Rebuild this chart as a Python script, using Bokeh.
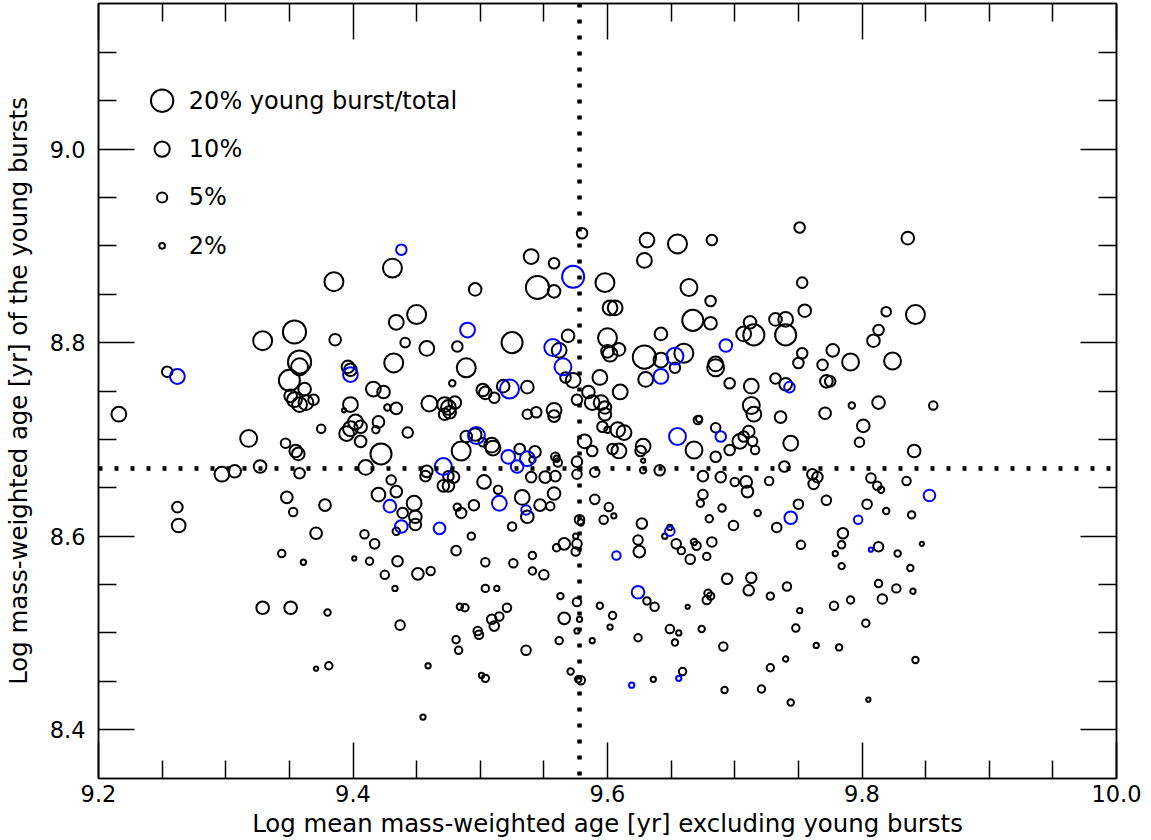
import math
from bokeh.plotting import figure
from bokeh.models import Range1d, LinearAxis, FixedTicker, Span, PrintfTickFormatter
from bokeh.embed import file_html
from bokeh.resources import INLINE
from bokeh.core.properties import value

# ---------------- data ----------------
# black: galaxies (x = log mean mass-weighted age excl. young bursts, y = log age of young bursts, pct = burst fraction %)
black_x = [
 9.216, 9.254, 9.262, 9.263, 9.297, 9.307, 9.318, 9.329, 9.327, 9.329, 9.351, 9.344, 9.347, 9.355, 9.357, 9.358,
 9.348, 9.353, 9.361, 9.378, 9.371, 9.371, 9.381, 9.380, 9.401, 9.375, 9.385, 9.354, 9.386, 9.358, 9.358, 9.350,
 9.362, 9.351, 9.354, 9.358, 9.363, 9.369, 9.396, 9.398, 9.398, 9.393, 9.395, 9.398, 9.402, 9.406, 9.406, 9.420,
 9.418, 9.443, 9.422, 9.410,
 9.580, 9.431, 9.540, 9.558, 9.545, 9.558, 9.598, 9.496, 9.450, 9.434, 9.441, 9.458, 9.482, 9.525, 9.562, 9.569,
 9.567, 9.573, 9.432, 9.489, 9.478, 9.502, 9.518, 9.537, 9.594, 9.602, 9.606, 9.600, 9.600, 9.602, 9.585, 9.416,
 9.424,
 9.751, 9.631, 9.655, 9.682, 9.629, 9.753, 9.664, 9.681, 9.755, 9.667, 9.681, 9.712, 9.707, 9.715, 9.732, 9.740,
 9.740, 9.642, 9.609, 9.629, 9.642, 9.660, 9.653, 9.630, 9.685, 9.685, 9.753, 9.750, 9.769, 9.777, 9.791, 9.732,
 9.740, 9.696, 9.713, 9.772, 9.775, 9.610,
 9.836, 9.819, 9.842, 9.813, 9.809, 9.824,
 9.813, 9.856, 9.801, 9.798, 9.841, 9.807, 9.835, 9.812, 9.815, 9.804, 9.819, 9.839, 9.813, 9.828, 9.847, 9.838,
 9.813, 9.827, 9.840, 9.816, 9.803, 9.842, 9.805,
 9.595, 9.598, 9.598, 9.596, 9.600, 9.608, 9.613, 9.604, 9.609, 9.628, 9.626, 9.628, 9.628, 9.641, 9.668, 9.671,
 9.672, 9.685, 9.685, 9.696, 9.704, 9.707, 9.711, 9.714, 9.716, 9.713, 9.715, 9.736, 9.744, 9.739, 9.771, 9.792,
 9.761, 9.765, 9.762, 9.675, 9.689, 9.700, 9.709, 9.710, 9.727, 9.675, 9.673, 9.690, 9.680, 9.699, 9.718, 9.733,
 9.750, 9.772, 9.601, 9.597, 9.605, 9.627, 9.649, 9.645, 9.624, 9.625, 9.654, 9.658, 9.668, 9.670, 9.682, 9.665,
 9.678, 9.752, 9.785, 9.784, 9.779, 9.784,
 9.694, 9.713, 9.711, 9.741, 9.728, 9.751, 9.778, 9.791, 9.631, 9.637, 9.663, 9.679, 9.681, 9.678, 9.594, 9.604,
 9.602, 9.624, 9.649, 9.656, 9.653, 9.674, 9.691, 9.748, 9.764, 9.782, 9.740, 9.728, 9.659, 9.636, 9.692, 9.721,
 9.744,
 9.425, 9.451, 9.461, 9.433, 9.504, 9.513, 9.541, 9.550, 9.563, 9.576, 9.566, 9.578, 9.576, 9.562, 9.588, 9.484,
 9.488, 9.521, 9.515, 9.509, 9.511, 9.498, 9.499, 9.437, 9.481, 9.483, 9.536, 9.459, 9.501, 9.504, 9.571, 9.579,
 9.577, 9.455,
 9.434, 9.427, 9.460, 9.472, 9.475, 9.480, 9.472, 9.476, 9.504, 9.511, 9.537, 9.544, 9.558, 9.558, 9.576, 9.588,
 9.489, 9.496, 9.485, 9.502, 9.509, 9.510, 9.531, 9.543, 9.541, 9.559, 9.560, 9.561, 9.576, 9.582, 9.588, 9.590,
 9.576, 9.458, 9.457, 9.475, 9.479, 9.475, 9.471, 9.430, 9.434, 9.420, 9.448, 9.439, 9.449, 9.449, 9.434, 9.503,
 9.514, 9.495, 9.482, 9.485, 9.533, 9.540, 9.551, 9.559, 9.558, 9.547, 9.555, 9.537, 9.525, 9.493, 9.409, 9.417,
 9.413, 9.435, 9.481, 9.504, 9.526, 9.541, 9.566, 9.560, 9.578, 9.579, 9.575, 9.576, 9.575, 9.590,
]
black_y = [
 8.726, 8.770, 8.630, 8.611, 8.664, 8.667, 8.701, 8.802, 8.672, 8.526, 8.526, 8.582, 8.696, 8.688, 8.685, 8.665,
 8.640, 8.625, 8.573, 8.632, 8.603, 8.463, 8.466, 8.521, 8.577, 8.711, 8.863, 8.811, 8.803, 8.780, 8.775, 8.761,
 8.752, 8.745, 8.741, 8.736, 8.738, 8.741, 8.775, 8.772, 8.736, 8.730, 8.706, 8.711, 8.718, 8.713, 8.698, 8.718,
 8.710, 8.707, 8.685, 8.671,
 8.913, 8.877, 8.889, 8.882, 8.857, 8.853, 8.862, 8.855, 8.829, 8.821, 8.800, 8.794, 8.796, 8.800, 8.792, 8.807,
 8.764, 8.761, 8.779, 8.774, 8.758, 8.751, 8.755, 8.754, 8.764, 8.836, 8.836, 8.805, 8.791, 8.788, 8.749, 8.752,
 8.749,
 8.919, 8.906, 8.902, 8.906, 8.885, 8.862, 8.857, 8.843, 8.833, 8.823, 8.820, 8.821, 8.809, 8.808, 8.824, 8.824,
 8.808, 8.809, 8.793, 8.785, 8.782, 8.789, 8.774, 8.762, 8.778, 8.774, 8.789, 8.779, 8.777, 8.792, 8.780, 8.763,
 8.757, 8.758, 8.755, 8.760, 8.760, 8.749,
 8.908, 8.832, 8.829, 8.813, 8.802, 8.781,
 8.738, 8.735, 8.714, 8.697, 8.688, 8.660, 8.657, 8.652, 8.648, 8.633, 8.626, 8.622, 8.589, 8.582, 8.592, 8.567,
 8.551, 8.546, 8.543, 8.535, 8.510, 8.472, 8.431,
 8.738, 8.733, 8.726, 8.713, 8.710, 8.710, 8.707, 8.690, 8.688, 8.693, 8.688, 8.678, 8.668, 8.668, 8.689, 8.720,
 8.721, 8.712, 8.682, 8.689, 8.698, 8.703, 8.708, 8.698, 8.689, 8.735, 8.726, 8.723, 8.696, 8.672, 8.727, 8.735,
 8.664, 8.661, 8.654, 8.662, 8.661, 8.656, 8.656, 8.646, 8.657, 8.643, 8.634, 8.629, 8.618, 8.611, 8.624, 8.609,
 8.633, 8.637, 8.630, 8.617, 8.621, 8.613, 8.609, 8.600, 8.596, 8.584, 8.592, 8.585, 8.594, 8.590, 8.594, 8.576,
 8.579, 8.591, 8.603, 8.591, 8.582, 8.569,
 8.556, 8.557, 8.544, 8.548, 8.538, 8.523, 8.528, 8.534, 8.533, 8.527, 8.527, 8.541, 8.538, 8.534, 8.528, 8.518,
 8.506, 8.495, 8.504, 8.500, 8.490, 8.504, 8.486, 8.505, 8.487, 8.485, 8.473, 8.464, 8.460, 8.452, 8.441, 8.442,
 8.428,
 8.560, 8.561, 8.564, 8.546, 8.546, 8.546, 8.564, 8.560, 8.538, 8.532, 8.515, 8.514, 8.502, 8.492, 8.492, 8.527,
 8.526, 8.526, 8.517, 8.514, 8.507, 8.502, 8.498, 8.508, 8.493, 8.482, 8.482, 8.466, 8.456, 8.453, 8.460, 8.451,
 8.452, 8.413,
 8.732, 8.733, 8.737, 8.736, 8.733, 8.738, 8.726, 8.728, 8.748, 8.743, 8.726, 8.728, 8.730, 8.724, 8.741, 8.738,
 8.703, 8.705, 8.688, 8.697, 8.694, 8.691, 8.690, 8.687, 8.679, 8.682, 8.680, 8.676, 8.677, 8.698, 8.688, 8.666,
 8.664, 8.667, 8.662, 8.662, 8.661, 8.652, 8.652, 8.658, 8.646, 8.643, 8.634, 8.624, 8.620, 8.612, 8.605, 8.656,
 8.648, 8.632, 8.630, 8.624, 8.640, 8.661, 8.661, 8.662, 8.644, 8.632, 8.631, 8.620, 8.610, 8.600, 8.602, 8.592,
 8.574, 8.574, 8.585, 8.573, 8.572, 8.580, 8.592, 8.588, 8.617, 8.614, 8.600, 8.592, 8.584, 8.638,
]
black_pct = [
 9.5, 5.3, 5.3, 8.3, 9.5, 7.2, 12, 14.8, 7.2, 7.2, 7.2, 3, 4.5, 7.2, 7.2, 5.3,
 6.3, 3.7, 1.8, 6.3, 6.3, 1.3, 3, 2.4, 1.3, 3.7, 14.8, 21.3, 6.3, 21.3, 12, 17.9,
 7.2, 7.2, 9.5, 9.5, 9.5, 5.3, 7.2, 7.2, 9.5, 1.3, 9.5, 9.5, 9.5, 7.2, 6.3, 6.3,
 3, 5.3, 17.9, 9.5,
 5.3, 14.8, 9.5, 5.3, 21.3, 7.2, 14.8, 7.2, 14.8, 9.5, 4.5, 9.5, 5.3, 17.9, 9.5, 7.2,
 5.3, 9.5, 14.8, 14.8, 2.4, 7.2, 7.2, 7.2, 9.5, 9.5, 9.5, 14.8, 7.2, 9.5, 7.2, 9.5,
 7.2,
 5.3, 9.5, 14.8, 5.3, 9.5, 5.3, 12, 5.3, 7.2, 17.9, 7.2, 7.2, 9.5, 17.9, 7.2, 9.5,
 17.9, 7.2, 7.2, 21.3, 9.5, 14.8, 5.3, 9.5, 9.5, 12, 5.3, 5.3, 5.3, 7.2, 12, 5.3,
 7.2, 5.3, 9.5, 7.2, 5.3, 9.5,
 7.2, 4.5, 14.8, 5.3, 7.2, 12,
 7.2, 3.7, 7.2, 4.5, 7.2, 4.5, 3.7, 3.7, 2.4, 4.5, 2.4, 3, 4.5, 2.4, 1.3, 2.4,
 3, 3.7, 1.8, 4.5, 3, 2.4, 1.3,
 9.5, 7.2, 7.2, 5.3, 2.4, 9.5, 9.5, 5.3, 9.5, 9.5, 5.3, 1.3, 2.4, 5.3, 12, 3.7,
 2.4, 4.5, 5.3, 5.3, 9.5, 5.3, 6.3, 4.5, 3.7, 12, 9.5, 6.3, 9.5, 5.3, 6.3, 2.4,
 5.3, 5.3, 5.3, 5.3, 5.3, 3.7, 6.3, 6.3, 3.7, 4.5, 3, 3, 3, 4.5, 2.4, 4.5,
 4.5, 4.5, 3.7, 3.7, 1.8, 5.3, 1.8, 1.8, 4.5, 6.3, 4.5, 3, 2.4, 3.7, 4.5, 4.5,
 3, 3.7, 5.3, 3, 1.8, 2.4,
 5.3, 5.3, 5.3, 3.7, 3, 1.8, 3.7, 3, 3, 3.7, 1.3, 3, 3, 3.7, 2.4, 3,
 1.8, 3, 3.7, 1.8, 2.4, 2.4, 3.7, 3, 1.8, 2.4, 1.8, 3, 3, 1.8, 2.4, 3,
 2.4,
 3.7, 6.3, 3.7, 1.8, 3, 1.8, 3, 4.5, 2.4, 3.7, 6.3, 1.8, 1.8, 3, 1.8, 2.4,
 3, 3.7, 3.7, 4.5, 4.5, 3.7, 3.7, 4.5, 3, 3, 4.5, 1.8, 1.8, 3, 2.4, 3.7,
 2.4, 1.8,
 6.3, 2.4, 10.7, 9.5, 9.5, 7.2, 6.3, 7.2, 7.2, 5.3, 4.5, 5.3, 9.5, 6.3, 5.3, 9.5,
 6.3, 7.2, 14.8, 3.7, 9.5, 9.5, 5.3, 6.3, 2.4, 3.7, 2.4, 3.7, 5.3, 8.3, 5.3, 4.5,
 4.5, 6.3, 5.3, 5.3, 6.3, 6.3, 6.3, 4.5, 6.3, 8.3, 9.5, 5.3, 7.2, 6.3, 3, 8.3,
 3.7, 5.3, 3, 5.3, 9.5, 5.3, 6.3, 5.3, 7.2, 6.3, 3.7, 7.2, 3.7, 3, 3.7, 4.5,
 3, 5.3, 4.5, 3.7, 3.7, 3, 6.3, 3, 4.5, 2.4, 1.8, 4.5, 3.7, 4.5,
]

# blue: highlighted galaxies
blue_x = [9.262, 9.398, 9.438, 9.573, 9.490, 9.557, 9.565, 9.523, 9.653, 9.642, 9.693, 9.743, 9.655, 9.689, 9.497,
          9.522, 9.529, 9.537, 9.471, 9.429, 9.438, 9.468, 9.515, 9.536, 9.744, 9.797, 9.853, 9.807, 9.649, 9.607,
          9.624, 9.656, 9.619]
blue_y = [8.765, 8.767, 8.896, 8.868, 8.813, 8.795, 8.775, 8.752, 8.786, 8.765, 8.797, 8.754, 8.703, 8.703, 8.704,
          8.682, 8.672, 8.680, 8.672, 8.631, 8.610, 8.608, 8.634, 8.627, 8.619, 8.617, 8.642, 8.586, 8.605, 8.580,
          8.542, 8.453, 8.446]
blue_pct = [9.5, 9.5, 5.3, 19.5, 9.5, 12, 12, 14.8, 12, 9.5, 7.2, 5.3, 12, 5.3, 12,
            8.3, 7.2, 9.5, 12, 7.2, 7.2, 6.3, 9.5, 4.5, 7.2, 3.7, 6.3, 1.3, 4.5, 3.7,
            7.2, 1.8, 1.8]

# median lines
median_x = 9.578
median_y = 8.670

# legend
legend_pct = [20, 10, 5, 2]
legend_text = ["20% young burst/total", "10%", "5%", "2%"]
legend_y = [9.05, 9.0, 8.95, 8.9]
legend_x = 9.25
legend_text_x = 9.271

x_ticks = [9.2, 9.4, 9.6, 9.8, 10.0]
x_minor = [9.25, 9.3, 9.35, 9.45, 9.5, 9.55, 9.65, 9.7, 9.75, 9.85, 9.9, 9.95]
y_ticks = [8.4, 8.6, 8.8, 9.0]
y_minor = [8.45, 8.5, 8.55, 8.65, 8.7, 8.75, 8.85, 8.9, 8.95, 9.05, 9.1]

x_title = "Log mean mass-weighted age [yr] excluding young bursts"
y_title = "Log mass-weighted age [yr] of the young bursts"

# ---------------- style ----------------
FONT = "DejaVu Sans"
LW = 2.0
X0, X1 = 9.2, 10.0
Y0, Y1 = 8.3495, 9.1505


def sz(pcts):
    return [5.45 * math.sqrt(v) - LW for v in pcts]


p = figure(width=1151, height=840, output_backend="svg", toolbar_location=None,
           x_range=Range1d(X0, X1), y_range=Range1d(Y0, Y1),
           x_axis_type=None, y_axis_type=None,
           min_border_left=96, min_border_right=35, min_border_top=3, min_border_bottom=60)
p.outline_line_color = "black"
p.outline_line_width = 1.5
p.background_fill_color = "white"
p.border_fill_color = "white"


def make_axis(ax, ticks, minor, labels):
    ax.ticker = FixedTicker(ticks=ticks, minor_ticks=minor)
    ax.formatter = PrintfTickFormatter(format="%.1f")
    ax.major_tick_in = 36
    ax.major_tick_out = 0
    ax.minor_tick_in = 18
    ax.minor_tick_out = 0
    ax.major_tick_line_color = "black"
    ax.minor_tick_line_color = "black"
    ax.major_tick_line_width = 1.5
    ax.minor_tick_line_width = 1.5
    ax.axis_line_color = "black"
    ax.axis_line_width = 1.5
    ax.major_label_text_font = FONT
    if labels:
        ax.major_label_text_font_size = "22.5px"
        ax.major_label_text_color = "black"
    else:
        ax.major_label_text_font_size = "1px"
        ax.major_label_text_color = None
        ax.major_label_standoff = 0
    ax.axis_label_text_font = FONT
    ax.axis_label_text_font_size = "24.4px"
    ax.axis_label_text_font_style = "normal"
    ax.axis_label_text_color = "black"
    return ax


xb = make_axis(LinearAxis(axis_label=x_title), x_ticks, x_minor, True)
xb.major_label_standoff = 6
xb.axis_label_standoff = 4
yl = make_axis(LinearAxis(axis_label=y_title), y_ticks, y_minor, True)
yl.major_label_standoff = 13
yl.axis_label_standoff = 14
xt = make_axis(LinearAxis(), x_ticks, x_minor, False)
yr = make_axis(LinearAxis(), y_ticks, y_minor, False)
p.add_layout(xb, "below")
p.add_layout(yl, "left")
p.add_layout(xt, "above")
p.add_layout(yr, "right")

p.scatter(black_x, black_y, size=sz(black_pct), marker="circle", fill_color=None,
          line_color="black", line_width=LW)
p.scatter(blue_x, blue_y, size=sz(blue_pct), marker="circle", fill_color=None,
          line_color="#0000ff", line_width=LW)

p.add_layout(Span(location=median_x, dimension="height", line_color="black",
                  line_width=4.5, line_dash="4 12"))
p.add_layout(Span(location=median_y, dimension="width", line_color="black",
                  line_width=4.5, line_dash="4 12"))

# legend
p.scatter([legend_x] * len(legend_pct), legend_y, size=sz(legend_pct), marker="circle",
          fill_color=None, line_color="black", line_width=LW)
p.text([legend_text_x] * len(legend_text), legend_y, text=legend_text,
       text_font=value(FONT), text_font_size="24px", text_baseline="middle",
       text_align="left", text_color="black")

open("out.html", "w").write(file_html(p, INLINE))
